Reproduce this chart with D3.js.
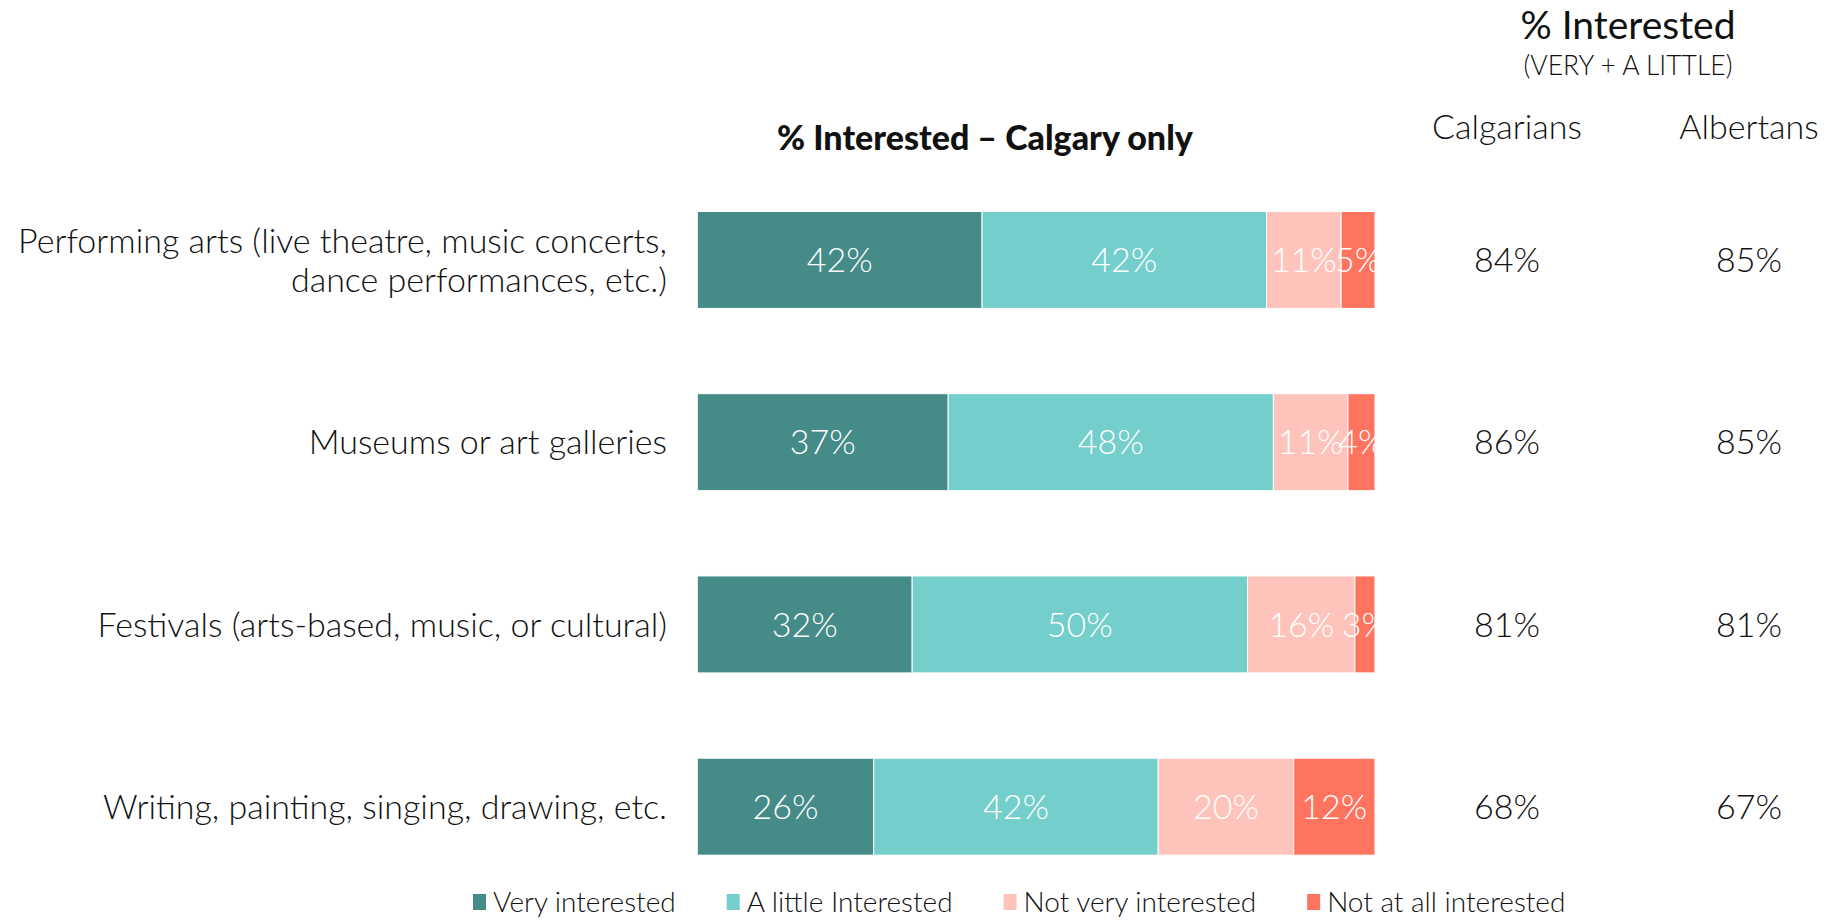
<!DOCTYPE html>
<html>
<head>
<meta charset="utf-8">
<script src="https://cdn.jsdelivr.net/npm/d3@7"></script>
<style>
  body { margin: 0; background: #fff; }
  svg text { font-family: Lato, "Open Sans", sans-serif; }
</style>
</head>
<body>
<svg id="chart" width="1832" height="922"></svg>
<script>
// categories and values
var categories = [
  "Performing arts (live theatre, music concerts,\ndance performances, etc.)",
  "Museums or art galleries",
  "Festivals (arts-based, music, or cultural)",
  "Writing, painting, singing, drawing, etc."
];
var seriesNames = ["Very interested", "A little Interested", "Not very interested", "Not at all interested"];
var veryInterested   = [42, 37, 32, 26];
var littleInterested = [42, 48, 50, 42];
var notVery          = [11, 11, 16, 20];
var notAtAll         = [5, 4, 3, 12];
var calgarians = [84, 86, 81, 68];
var albertans  = [85, 85, 81, 67];
var colors = ["#458b87", "#74cecb", "#fec4bb", "#ff745f"];

var rows = categories.map(function(c, i) {
  return { cat: c, s0: veryInterested[i], s1: littleInterested[i], s2: notVery[i], s3: notAtAll[i] };
});
var keys = ["s0", "s1", "s2", "s3"];

var svg = d3.select("#chart");

var y = d3.scaleBand().domain(categories).range([168.8, 897.8]).paddingInner(0.468).paddingOuter(0.234);
var x = d3.scaleLinear().domain([0, 1]).range([697.5, 1375]);
var color = d3.scaleOrdinal().domain(keys).range(colors);

var stacked = d3.stack().keys(keys).offset(d3.stackOffsetExpand)(rows);

svg.append("defs").append("clipPath").attr("id", "barclip")
  .append("rect").attr("x", x(0)).attr("y", 0).attr("width", x(1) - x(0)).attr("height", 922);

var bars = svg.append("g").attr("clip-path", "url(#barclip)");

var layer = bars.selectAll("g.layer")
  .data(stacked)
  .enter().append("g")
    .attr("class", "layer")
    .attr("fill", function(d) { return color(d.key); });

layer.selectAll("rect")
  .data(function(d) { return d; })
  .enter().append("rect")
    .attr("x", function(d) { return x(d[0]); })
    .attr("y", function(d) { return y(d.data.cat); })
    .attr("width", function(d) { return x(d[1]) - x(d[0]); })
    .attr("height", y.bandwidth())
    .attr("stroke", "#fff")
    .attr("stroke-width", 1);

// values inside the bars
layer.selectAll("text")
  .data(function(d) { return d.map(function(p) { p.key = d.key; return p; }); })
  .enter().append("text")
    .attr("x", function(d) { return (x(d[0]) + x(d[1])) / 2; })
    .attr("y", function(d) { return y(d.data.cat) + y.bandwidth() / 2; })
    .attr("dy", "0.36em")
    .attr("text-anchor", "middle")
    .attr("fill", "#fff")
    .style("font-size", "34px")
    .style("font-weight", 300)
    .text(function(d) { return d.data[d.key] + "%"; });

// category labels
var catLabels = svg.append("g").selectAll("text")
  .data(categories)
  .enter().append("text")
    .attr("text-anchor", "end")
    .attr("fill", "#111")
    .style("font-size", "34px")
    .style("font-weight", 300)
    .attr("transform", function(d) { return "translate(667," + (y(d) + y.bandwidth() / 2) + ")"; });

catLabels.each(function(d) {
  var lines = d.split("\n");
  var t = d3.select(this);
  lines.forEach(function(line, i) {
    t.append("tspan")
      .attr("x", 0)
      .attr("y", (i - (lines.length - 1) / 2) * 39)
      .attr("dy", "0.36em")
      .text(line);
  });
});

// titles
svg.append("text")
  .attr("x", 985).attr("y", 150)
  .attr("text-anchor", "middle")
  .attr("fill", "#111")
  .style("font-size", "34px")
  .style("font-weight", 900)
  .text("% Interested \u2013 Calgary only");

svg.append("text")
  .attr("x", 1628).attr("y", 39)
  .attr("text-anchor", "middle")
  .attr("fill", "#111")
  .style("font-size", "39px")
  .text("% Interested");

svg.append("text")
  .attr("x", 1628).attr("y", 75)
  .attr("text-anchor", "middle")
  .attr("fill", "#111")
  .style("font-size", "26.5px")
  .style("font-weight", 300)
  .text("(VERY + A LITTLE)");

var cols = [
  { name: "Calgarians", x: 1507, vals: calgarians },
  { name: "Albertans", x: 1749, vals: albertans }
];

cols.forEach(function(c) {
  svg.append("text")
    .attr("x", c.x).attr("y", 139)
    .attr("text-anchor", "middle")
    .attr("fill", "#111")
    .style("font-size", "34px")
    .style("font-weight", 300)
    .text(c.name);

  svg.append("g").selectAll("text")
    .data(c.vals)
    .enter().append("text")
      .attr("x", c.x)
      .attr("y", function(d, i) { return y(categories[i]) + y.bandwidth() / 2; })
      .attr("dy", "0.36em")
      .attr("text-anchor", "middle")
      .attr("fill", "#111")
      .style("font-size", "34px")
      .style("font-weight", 300)
      .text(function(d) { return d + "%"; });
});

// legend
var legend = svg.append("g").attr("transform", "translate(473,902)");
var lx = 0;
seriesNames.forEach(function(name, i) {
  var g = legend.append("g").attr("transform", "translate(" + lx + ",0)");
  g.append("rect").attr("x", 0).attr("y", -8).attr("width", 13).attr("height", 16).attr("fill", colors[i]);
  var t = g.append("text")
    .attr("x", 20).attr("y", 0).attr("dy", "0.36em")
    .attr("fill", "#111")
    .style("font-size", "28px")
    .style("font-weight", 300)
    .text(name);
  lx += 20 + t.node().getComputedTextLength() + 51;
});
</script>
</body>
</html>
